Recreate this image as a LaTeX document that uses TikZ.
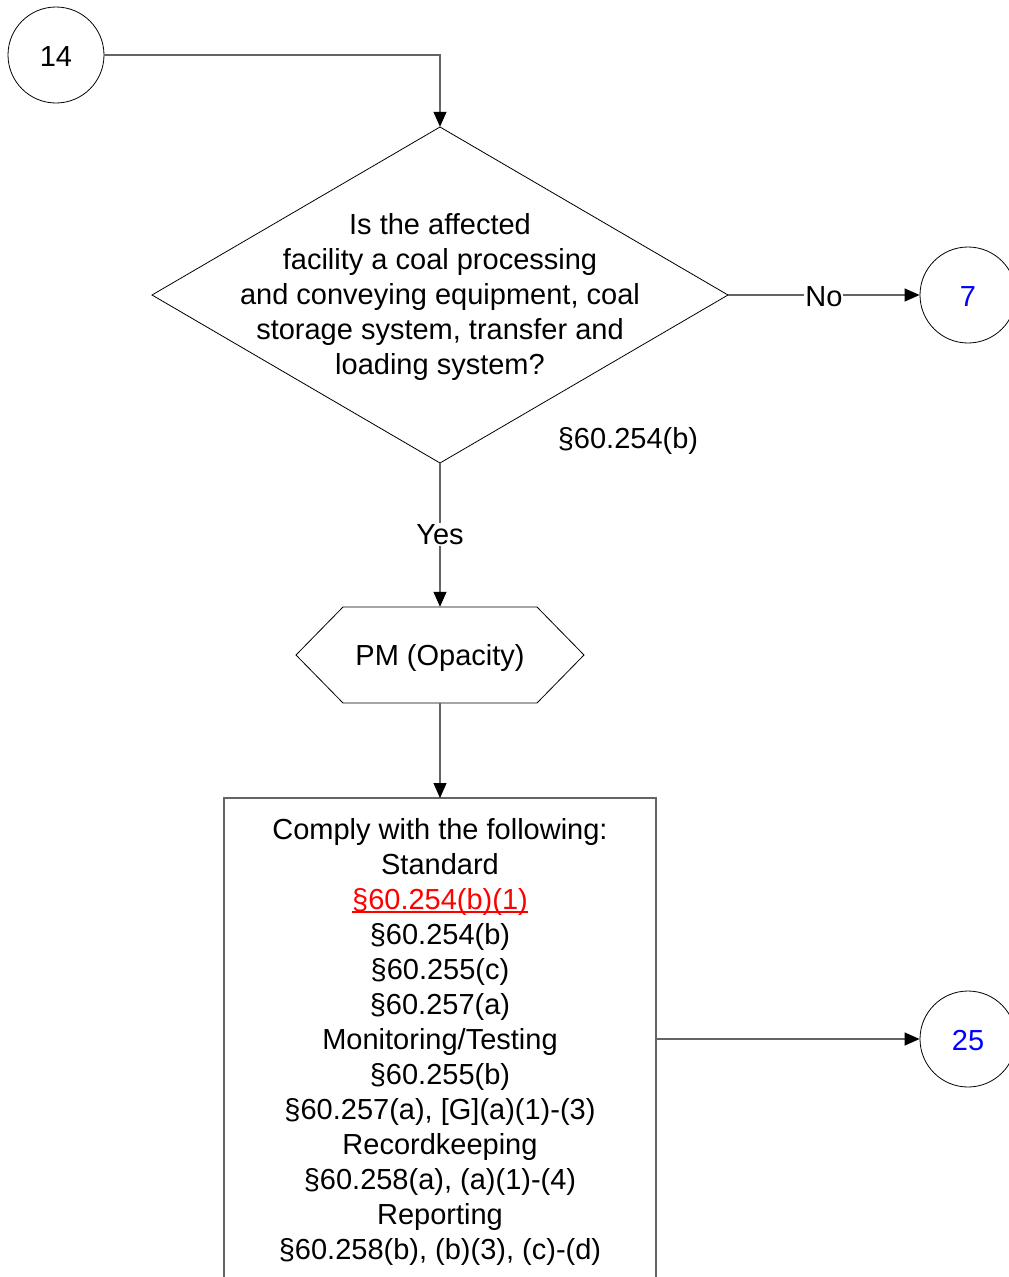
\documentclass[tikz,border=0pt]{standalone}
\usepackage{fontspec}
\setmainfont{Liberation Sans}
\usetikzlibrary{arrows.meta,shapes.geometric}
\definecolor{conn}{RGB}{100,100,100}
\definecolor{linkblue}{RGB}{0,0,255}
\definecolor{linkred}{RGB}{255,0,0}
\newsavebox\myulbox
\newcommand\myredul[1]{{\color{linkred}\sbox\myulbox{#1}\rlap{\usebox\myulbox}\rule[-3.5pt]{\wd\myulbox}{1.6pt}}}
\begin{document}
\begin{tikzpicture}[x=1pt,y=-1pt,
  txt/.style={font=\fontsize{29}{35}\selectfont, align=center, inner sep=0pt},
  conncircle/.style={draw=black, line width=0.8pt, circle, minimum size=96pt, inner sep=0pt, font=\fontsize{29}{35}\selectfont},
  connector/.style={draw=conn, line width=1.2pt, -{Triangle[length=15pt,width=13pt,color=black,fill=black]}},
  lbl/.style={fill=white, inner sep=1pt, font=\fontsize{29}{35}\selectfont}]
\useasboundingbox (0,0) rectangle (1009,1277);
\begin{scope}
\clip (0,0) rectangle (1009,1277);
% circles
\node[conncircle] (c14) at (56,55) {};
\node[txt] (t14) at (56,57) {14};
\node[conncircle] (c7) at (968,295) {};
\node[txt, text=linkblue] (t7) at (968,297) {7};
\node[conncircle] (c25) at (968,1039) {};
\node[txt, text=linkblue] (t25) at (968,1041) {25};
% diamond
\draw[black, line width=0.8pt] (440,127) -- (728,295) -- (440,463) -- (152,295) -- cycle;
\node[minimum width=576pt, minimum height=336pt, inner sep=0pt] (dia) at (440,295) {};
\node[txt] (diatext) at (440,297) {Is the affected\\facility a coal processing\\and conveying equipment, coal\\storage system, transfer and\\loading system?};
\node[txt] (ref) at (628,441) {\S60.254(b)};
% hexagon
\draw[black, line width=0.8pt] (296,655) -- (343,607) -- (537,607) -- (584,655) -- (537,703) -- (343,703) -- cycle;
\node[minimum width=288pt, minimum height=96pt, inner sep=0pt] (hex) at (440,655) {};
\node[txt] (hextext) at (440,658) {PM (Opacity)};
% box
\draw[conn, line width=1.2pt] (224,1300) -- (224,798) -- (656,798) -- (656,1300);
\coordinate (boxtop) at (440,798);
\coordinate (boxright) at (656,1039);
\node[txt] (boxtext) at (440,1042) {Comply with the following:\\Standard\\\myredul{\S60.254(b)(1)}\\\S60.254(b)\\\S60.255(c)\\\S60.257(a)\\Monitoring/Testing\\\S60.255(b)\\\S60.257(a), [G](a)(1)-(3)\\Recordkeeping\\\S60.258(a), (a)(1)-(4)\\Reporting\\\S60.258(b), (b)(3), (c)-(d)};
% connectors
\draw[connector] (c14.east) -| (dia.north);
\draw[connector] (dia.east) -- node[lbl, pos=0.5, yshift=-2pt] (no) {No} (c7.west);
\draw[connector] (dia.south) -- node[lbl, pos=0.49, yshift=-1pt] (yes) {Yes} (hex.north);
\draw[connector] (hex.south) -- (boxtop);
\draw[connector] (boxright) -- (c25.west);
\end{scope}
\end{tikzpicture}
\end{document}
